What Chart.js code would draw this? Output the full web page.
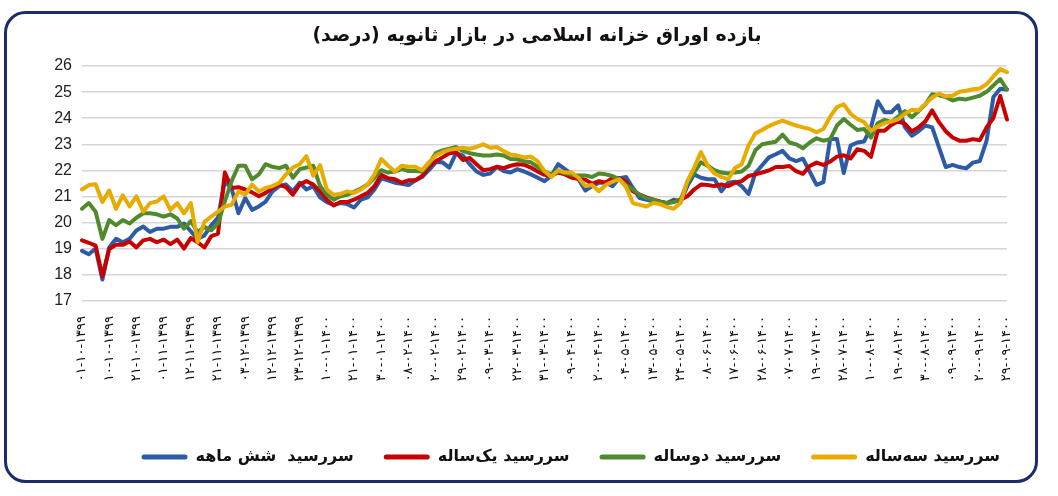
<!DOCTYPE html>
<html><head><meta charset="utf-8">
<script src="https://cdn.jsdelivr.net/npm/chart.js@4.4.1/dist/chart.umd.min.js"></script>
<style>html,body{margin:0;padding:0;background:#fff;}#wrap{width:1058px;height:496px;}</style>
</head><body><div id="wrap"><canvas id="c" width="1058" height="496"></canvas></div>
<script>
const chartTitle = 'بازده اوراق خزانه اسلامی در بازار ثانویه (درصد)';
const seriesNames = ['سررسید  شش ماهه', 'سررسید یک‌ساله', 'سررسید دوساله', 'سررسید سه‌ساله'];
const tickLabels = ['۰۱-۱۰-۱۳۹۹','۱۰-۱۰-۱۳۹۹','۲۱-۱۰-۱۳۹۹','۰۱-۱۱-۱۳۹۹','۱۲-۱۱-۱۳۹۹','۲۱-۱۱-۱۳۹۹','۰۳-۱۲-۱۳۹۹','۱۲-۱۲-۱۳۹۹','۲۳-۱۲-۱۳۹۹','۱۰-۰۱-۱۴۰۰','۲۱-۰۱-۱۴۰۰','۳۰-۰۱-۱۴۰۰','۰۸-۰۲-۱۴۰۰','۲۰-۰۲-۱۴۰۰','۲۹-۰۲-۱۴۰۰','۰۹-۰۳-۱۴۰۰','۲۲-۰۳-۱۴۰۰','۳۱-۰۳-۱۴۰۰','۰۹-۰۴-۱۴۰۰','۲۰-۰۴-۱۴۰۰','۰۴-۰۵-۱۴۰۰','۱۳-۰۵-۱۴۰۰','۲۴-۰۵-۱۴۰۰','۰۸-۰۶-۱۴۰۰','۱۷-۰۶-۱۴۰۰','۲۸-۰۶-۱۴۰۰','۰۷-۰۷-۱۴۰۰','۱۹-۰۷-۱۴۰۰','۲۸-۰۷-۱۴۰۰','۱۰-۰۸-۱۴۰۰','۱۹-۰۸-۱۴۰۰','۳۰-۰۸-۱۴۰۰','۰۹-۰۹-۱۴۰۰','۲۰-۰۹-۱۴۰۰','۲۹-۰۹-۱۴۰۰'];
const pointsPerTick = 4;
const yMin = 17, yMax = 26, yStep = 1;

const sixMonth = [18.92,18.79,19.01,17.82,19.05,19.38,19.25,19.38,19.7,19.85,19.64,19.77,19.77,19.84,19.84,19.97,19.67,19.38,19.51,19.9,20.19,21.6,21.3,20.36,20.94,20.49,20.62,20.81,21.2,21.4,21.46,21.2,21.53,21.27,21.4,
20.97,20.79,20.68,20.75,20.71,20.58,20.88,20.97,21.27,21.7,21.62,21.53,21.49,21.44,21.62,21.75,22.01,22.31,22.31,22.11,22.66,22.57,22.24,21.96,21.83,21.88,22.14,21.98,21.92,22.05,21.96,21.85,21.72,21.59,
21.8,22.24,22.05,21.85,21.66,21.23,21.4,21.53,21.53,21.4,21.7,21.75,21.33,20.94,20.88,20.81,20.77,20.75,20.88,20.79,21.4,21.85,21.72,21.66,21.66,21.2,21.53,21.57,21.4,21.1,21.9,22.2,
22.5,22.62,22.75,22.46,22.36,22.45,21.95,21.45,21.55,23.2,23.2,21.9,22.95,23.07,23.11,23.65,24.65,24.23,24.23,24.49,23.65,23.33,23.5,23.72,23.65,22.88,22.13,22.21,22.13,22.08,22.3,22.36,23.14,24.81,25.13,25.1];

const oneYear = [19.32,19.23,19.12,17.95,18.99,19.15,19.15,19.28,19.05,19.32,19.38,19.25,19.35,19.18,19.35,19.01,19.41,19.25,19.05,19.48,19.58,21.92,21.33,21.36,21.27,21.16,21.01,21.14,21.33,21.46,21.36,21.07,21.46,21.59,21.46,
21.2,20.88,20.66,20.79,20.79,20.88,21.01,21.14,21.4,21.83,21.7,21.66,21.53,21.62,21.62,21.79,22.14,22.35,22.5,22.66,22.7,22.4,22.48,22.24,22.01,22.05,22.14,22.09,22.18,22.24,22.22,22.11,21.96,21.83,
21.8,21.92,21.85,21.72,21.68,21.64,21.49,21.59,21.53,21.72,21.7,21.57,21.2,21.07,20.97,20.88,20.81,20.75,20.81,20.88,21.01,21.27,21.46,21.44,21.4,21.46,21.4,21.53,21.59,21.79,21.85,21.92,
22.0,22.13,22.13,22.17,21.97,21.87,22.17,22.3,22.21,22.34,22.53,22.58,22.46,22.81,22.75,22.52,23.52,23.52,23.74,23.88,23.78,23.5,23.65,23.88,24.3,23.85,23.5,23.26,23.14,23.14,23.2,23.16,23.65,24.01,24.85,23.95];

const twoYear = [20.53,20.75,20.42,19.38,20.1,19.9,20.1,19.97,20.19,20.36,20.36,20.32,20.23,20.32,20.16,19.77,20.06,19.64,19.84,19.71,19.97,20.81,21.59,22.18,22.18,21.66,21.85,22.24,22.14,22.09,22.18,21.72,22.05,22.11,22.18,
21.4,21.07,20.88,21.01,21.07,21.18,21.31,21.46,21.72,22.01,21.92,21.96,22.05,21.98,21.98,21.96,22.24,22.66,22.77,22.83,22.9,22.74,22.66,22.61,22.57,22.57,22.61,22.57,22.44,22.43,22.35,22.31,22.14,21.96,
21.85,21.96,21.9,21.83,21.81,21.81,21.75,21.88,21.85,21.79,21.66,21.44,21.27,21.07,20.94,20.88,20.79,20.75,20.79,20.88,21.53,21.92,22.31,22.18,22.01,21.92,21.88,21.92,21.96,22.18,22.77,23.0,
23.05,23.1,23.37,23.07,23.0,22.85,23.07,23.23,23.14,23.2,23.72,23.97,23.75,23.55,23.59,23.26,23.81,23.94,23.85,24.06,24.27,24.04,24.27,24.53,24.92,24.88,24.81,24.68,24.75,24.72,24.79,24.86,25.01,25.25,25.5,25.1];

const threeYear = [21.27,21.44,21.47,20.79,21.23,20.53,21.05,20.62,21.01,20.42,20.75,20.81,21.01,20.49,20.75,20.36,20.75,19.25,20.03,20.23,20.42,20.62,20.68,21.2,21.07,21.46,21.2,21.33,21.4,21.53,21.85,22.11,22.24,22.55,21.8,
22.2,21.27,21.07,21.1,21.2,21.14,21.27,21.46,21.85,22.44,22.18,21.96,22.18,22.14,22.14,22.01,22.31,22.57,22.7,22.79,22.83,22.87,22.83,22.9,23.0,22.87,22.9,22.74,22.61,22.57,22.5,22.53,22.35,21.98,
21.75,22.01,21.92,21.92,21.72,21.4,21.44,21.2,21.44,21.57,21.66,21.36,20.75,20.68,20.62,20.75,20.71,20.6,20.53,20.75,21.59,22.11,22.7,22.18,21.88,21.75,21.66,22.09,22.24,22.96,23.42,23.55,
23.7,23.81,23.91,23.81,23.72,23.65,23.59,23.46,23.59,24.06,24.43,24.53,24.17,23.97,23.85,23.52,23.68,23.81,23.88,23.96,24.17,24.32,24.3,24.55,24.79,24.94,24.84,24.86,25.01,25.05,25.11,25.14,25.3,25.6,25.88,25.76];

const categories = sixMonth.map((_, i) => (i % pointsPerTick === 0 && tickLabels[i / pointsPerTick] !== undefined) ? tickLabels[i / pointsPerTick] : '');

const framePlugin = {
  id: 'frame',
  beforeDraw(chart) {
    const c = chart.ctx;
    c.save(); c.fillStyle = '#ffffff'; c.fillRect(0, 0, chart.width, chart.height); c.restore();
  },
  afterDatasetsDraw(chart) {
    // spacing for the rotated date labels drawn after the datasets (x ticks z = 1)
    if ('letterSpacing' in chart.ctx) chart.ctx.letterSpacing = '1.5px';
  },
  afterDraw(chart) {
    const c = chart.ctx;
    if ('letterSpacing' in c) c.letterSpacing = '0px';
    c.save();
    c.strokeStyle = '#1b2c6b'; c.lineWidth = 3;
    c.beginPath();
    if (c.roundRect) { c.roundRect(5.5, 12.5, 1031, 469, 20); } else { c.rect(5.5, 12.5, 1031, 469); }
    c.stroke();
    c.font = 'bold 19px "DejaVu Sans"';
    c.fillStyle = '#111111';
    c.textAlign = 'center'; c.textBaseline = 'middle';
    c.direction = 'rtl';
    c.fillText(chartTitle, 537, 36);
    c.restore();
  }
};

const mk = (label, data, color) => ({ label, data, borderColor: color, backgroundColor: color, borderWidth: 4, pointRadius: 0, tension: 0, borderJoinStyle: 'round', borderCapStyle: 'round', fill: false });

new Chart(document.getElementById('c'), {
  type: 'line',
  data: {
    labels: categories,
    datasets: [
      mk(seriesNames[3], threeYear, '#e8ab00'),
      mk(seriesNames[2], twoYear, '#4f8a2f'),
      mk(seriesNames[1], oneYear, '#c80000'),
      mk(seriesNames[0], sixMonth, '#2d5ba6')
    ]
  },
  options: {
    responsive: false,
    animation: false,
    layout: { padding: { left: 42, right: 28, top: 66, bottom: 21 } },
    plugins: {
      title: { display: false },
      tooltip: { enabled: false },
      legend: {
        position: 'bottom',
        align: 'end',
        reverse: true,
        labels: {
          font: { family: 'DejaVu Sans', size: 16, weight: 'bold' },
          color: '#111111',
          boxWidth: 46, boxHeight: 5, padding: 30,
          useBorderRadius: true, borderRadius: 2.5,
          generateLabels: (chart) => Chart.defaults.plugins.legend.labels.generateLabels(chart).map(l => Object.assign(l, { lineWidth: 0 }))
        }
      }
    },
    scales: {
      x: {
        type: 'category', offset: false,
        grid: { display: false, drawTicks: false }, border: { display: false },
        ticks: { autoSkip: false, maxRotation: 90, minRotation: 90, padding: 15, z: 1, font: { family: 'DejaVu Sans', size: 13 }, color: '#111111' },
        afterFit: (s) => { s.height = 118; }
      },
      y: {
        min: yMin, max: yMax,
        ticks: { stepSize: yStep, padding: 10, font: { family: 'Liberation Sans', size: 16 }, color: '#222222' },
        grid: { color: '#d6d6d6', lineWidth: 1.5, drawTicks: false },
        border: { display: false },
        afterFit: (s) => { s.width = 40; }
      },
      y2: {
        position: 'right', display: true,
        grid: { display: false, drawTicks: false }, border: { display: false }, ticks: { display: false },
        afterFit: (s) => { s.width = 23; }
      }
    }
  },
  plugins: [framePlugin]
});
</script>
</body></html>
